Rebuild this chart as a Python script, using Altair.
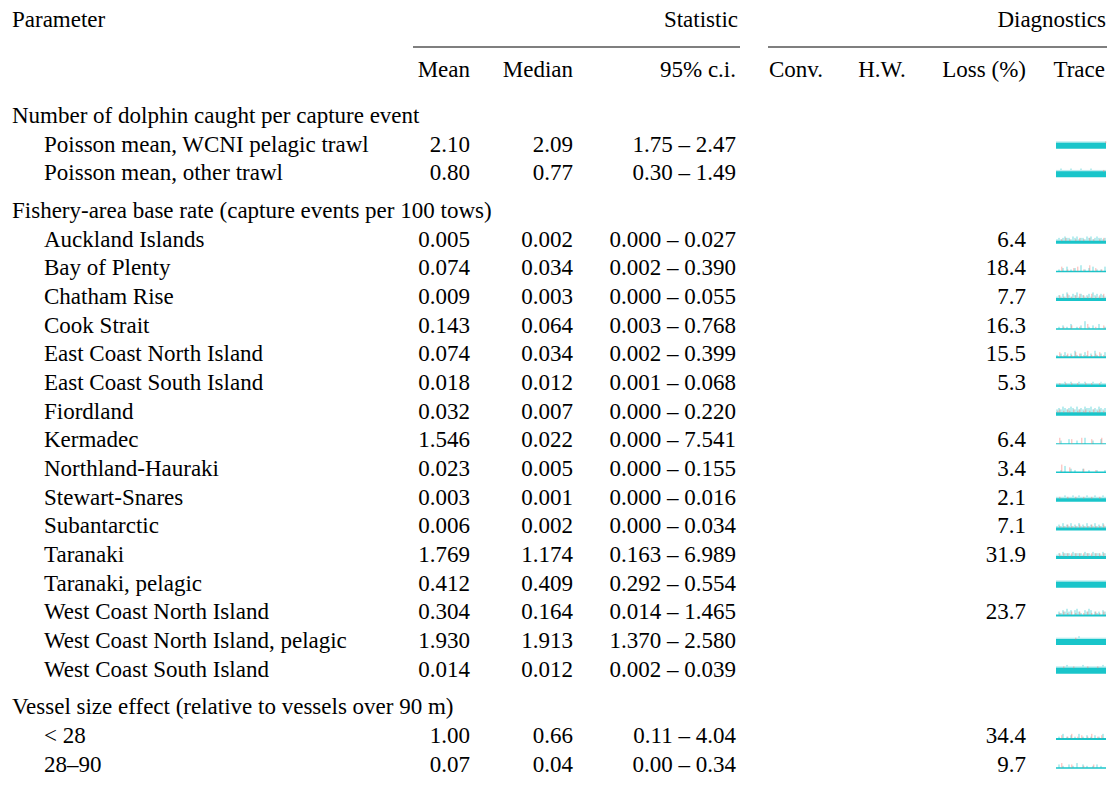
import altair as alt
import pandas as pd

# ---------------- data ----------------
sections = [
    "Number of dolphin caught per capture event",
    "Fishery-area base rate (capture events per 100 tows)",
    "Vessel size effect (relative to vessels over 90 m)",
]
params = [
    ["Poisson mean, WCNI pelagic trawl", "Poisson mean, other trawl"],
    ["Auckland Islands", "Bay of Plenty", "Chatham Rise", "Cook Strait",
     "East Coast North Island", "East Coast South Island", "Fiordland", "Kermadec",
     "Northland-Hauraki", "Stewart-Snares", "Subantarctic", "Taranaki",
     "Taranaki, pelagic", "West Coast North Island", "West Coast North Island, pelagic",
     "West Coast South Island"],
    ["< 28", "28\u201390"],
]
decimals = [2, 3, 2]
means = [[2.10, 0.80],
         [0.005, 0.074, 0.009, 0.143, 0.074, 0.018, 0.032, 1.546, 0.023, 0.003,
          0.006, 1.769, 0.412, 0.304, 1.930, 0.014],
         [1.00, 0.07]]
medians = [[2.09, 0.77],
           [0.002, 0.034, 0.003, 0.064, 0.034, 0.012, 0.007, 0.022, 0.005, 0.001,
            0.002, 1.174, 0.409, 0.164, 1.913, 0.012],
           [0.66, 0.04]]
ci_lo = [[1.75, 0.30],
         [0.000, 0.002, 0.000, 0.003, 0.002, 0.001, 0.000, 0.000, 0.000, 0.000,
          0.000, 0.163, 0.292, 0.014, 1.370, 0.002],
         [0.11, 0.00]]
ci_hi = [[2.47, 1.49],
         [0.027, 0.390, 0.055, 0.768, 0.399, 0.068, 0.220, 7.541, 0.155, 0.016,
          0.034, 6.989, 0.554, 1.465, 2.580, 0.039],
         [4.04, 0.34]]
loss = [[None, None],
        [6.4, 18.4, 7.7, 16.3, 15.5, 5.3, None, 6.4, 3.4, 2.1, 7.1, 31.9, None,
         23.7, None, None],
        [34.4, 9.7]]

# trace sketches (base band weight, chain-1 spike heights, chain-2 spike heights)
trace_base = [[6, 6],
              [3, 1.5, 3, 1.5, 2, 2.5, 3.5, 1, 1.5, 3.5, 3, 3, 6, 2, 6, 6],
              [2, 1.5]]
trace_teal = [["1111111111111111111111111", "1121111211112111121111111"],
              ["1212322132312213231232212", "0102030102004010203010103",
               "1213142132413212314231321", "0102010300102050102003001",
               "1020310204102031020410203", "1111211211121121112111211",
               "2324323432423243342324323", "0020003000200040002000300",
               "0010400201000200100010001", "1111211121121112111211121",
               "1213121312131213121312131", "1213222132222132213222132",
               "1111111111111111111111111", "0213242303421032430212032",
               "1111111111121111111111111", "1111121111111211111111121"],
              ["0103010201030102010201030", "0201002010300201001020100"]]
trace_red = [["0000000000000000000000001", "0000000000000000000000010"],
             ["0010201001020100201001020", "0030010020300100400200100",
              "0201030102030201030102030", "0001000200010003000100020",
              "0301020103020104010203010", "0100100100100010010001000",
              "1201021020120120102012010", "0400000300004000030000400",
              "0050003000000200000100000", "0100010001000100010001000",
              "0101020101020101020101020", "0202020202020202020202020",
              "0000000000000000000000000", "0102010201020102010201020",
              "0000000001000000000000000", "0001000010000001000010000"],
             ["0020010300102001030010200", "0030000200000100002000000"]]

# ---------------- layout (page pixel coordinates) ----------------
FONT = "Liberation Serif"
FS = 23
X_LABEL, X_SUB = 12, 44
X_MEAN, X_MED, X_CI = 470, 573, 736
X_CONV, X_HW, X_LOSS, X_TRACE_HDR = 796, 882, 1026, 1105
TR0, TR1 = 1056, 1106
Y_TOP, Y_RULE, Y_HDR = 20, 47, 70
STEP, GAP, Y_SEC1 = 28.67, 9.0, 116.0

left, right, center = [], [], []
left.append(dict(x=X_LABEL, y=Y_TOP, t="Parameter"))
right.append(dict(x=738, y=Y_TOP, t="Statistic"))
right.append(dict(x=1106, y=Y_TOP, t="Diagnostics"))
right += [dict(x=X_MEAN, y=Y_HDR, t="Mean"), dict(x=X_MED, y=Y_HDR, t="Median"),
          dict(x=X_CI, y=Y_HDR, t="95% c.i."), dict(x=X_LOSS, y=Y_HDR, t="Loss (%)"),
          dict(x=X_TRACE_HDR, y=Y_HDR, t="Trace")]
center += [dict(x=X_CONV, y=Y_HDR, t="Conv."), dict(x=X_HW, y=Y_HDR, t="H.W.")]

band_rows, spike_rows = [], []
y = Y_SEC1
for s, sec in enumerate(sections):
    left.append(dict(x=X_LABEL, y=y, t=sec))
    d = decimals[s]
    for i, p in enumerate(params[s]):
        y += STEP
        left.append(dict(x=X_SUB, y=y, t=p))
        right.append(dict(x=X_MEAN, y=y, t=f"{means[s][i]:.{d}f}"))
        right.append(dict(x=X_MED, y=y, t=f"{medians[s][i]:.{d}f}"))
        right.append(dict(x=X_CI, y=y, t=f"{ci_lo[s][i]:.{d}f} \u2013 {ci_hi[s][i]:.{d}f}"))
        if loss[s][i] is not None:
            right.append(dict(x=X_LOSS, y=y, t=f"{loss[s][i]:.1f}"))
        base = y + 4
        w = trace_base[s][i]
        band_rows.append(dict(x=TR0, x2=TR1, y=base, y2=base - w))
        for chain, pat in (("a", trace_teal[s][i]), ("b", trace_red[s][i])):
            n = len(pat)
            for k, ch in enumerate(pat):
                h = int(ch)
                if h == 0:
                    continue
                xx = TR0 + 1 + k * (TR1 - TR0 - 2) / (n - 1) + (0.8 if chain == "b" else 0)
                spike_rows.append(dict(x=xx, y=base - w + 0.5, y2=base - w - h * 1.4, chain=chain))
    y += STEP + GAP

rules = pd.DataFrame([dict(x=413, x2=740, y=Y_RULE), dict(x=768, x2=1107, y=Y_RULE)])

W, H = 1099, 779
xs = alt.Scale(domain=[8, 8 + W], range=[0, W])
ys = alt.Scale(domain=[8, 8 + H], range=[0, H])


def text_layer(rows, align):
    df = pd.DataFrame(rows)
    return alt.Chart(df).mark_text(
        align=align, baseline="middle", font=FONT, fontSize=FS, color="#000000"
    ).encode(
        x=alt.X("x:Q", scale=xs, axis=None),
        y=alt.Y("y:Q", scale=ys, axis=None),
        text="t:N",
    )


rule_layer = alt.Chart(rules).mark_rule(color="#555555", strokeWidth=1.3).encode(
    x=alt.X("x:Q", scale=xs, axis=None), x2="x2:Q",
    y=alt.Y("y:Q", scale=ys, axis=None),
)
band_layer = alt.Chart(pd.DataFrame(band_rows)).mark_rect(color="#00BFC4", opacity=0.9).encode(
    x=alt.X("x:Q", scale=xs, axis=None), x2="x2:Q",
    y=alt.Y("y:Q", scale=ys, axis=None), y2="y2:Q",
)
spike_layer = alt.Chart(pd.DataFrame(spike_rows)).mark_rule(strokeWidth=1, opacity=0.55).encode(
    x=alt.X("x:Q", scale=xs, axis=None),
    y=alt.Y("y:Q", scale=ys, axis=None), y2="y2:Q",
    color=alt.Color("chain:N", scale=alt.Scale(domain=["a", "b"], range=["#00BFC4", "#F8766D"]),
                    legend=None),
)

chart = alt.layer(
    rule_layer, band_layer, spike_layer,
    text_layer(left, "left"), text_layer(right, "right"), text_layer(center, "center"),
).properties(
    width=W, height=H, autosize=alt.AutoSizeParams(type="none"), padding=0,
    background="white",
).configure_view(stroke=None)

chart.save("out.html", embed_options={"renderer": "svg", "actions": False})
